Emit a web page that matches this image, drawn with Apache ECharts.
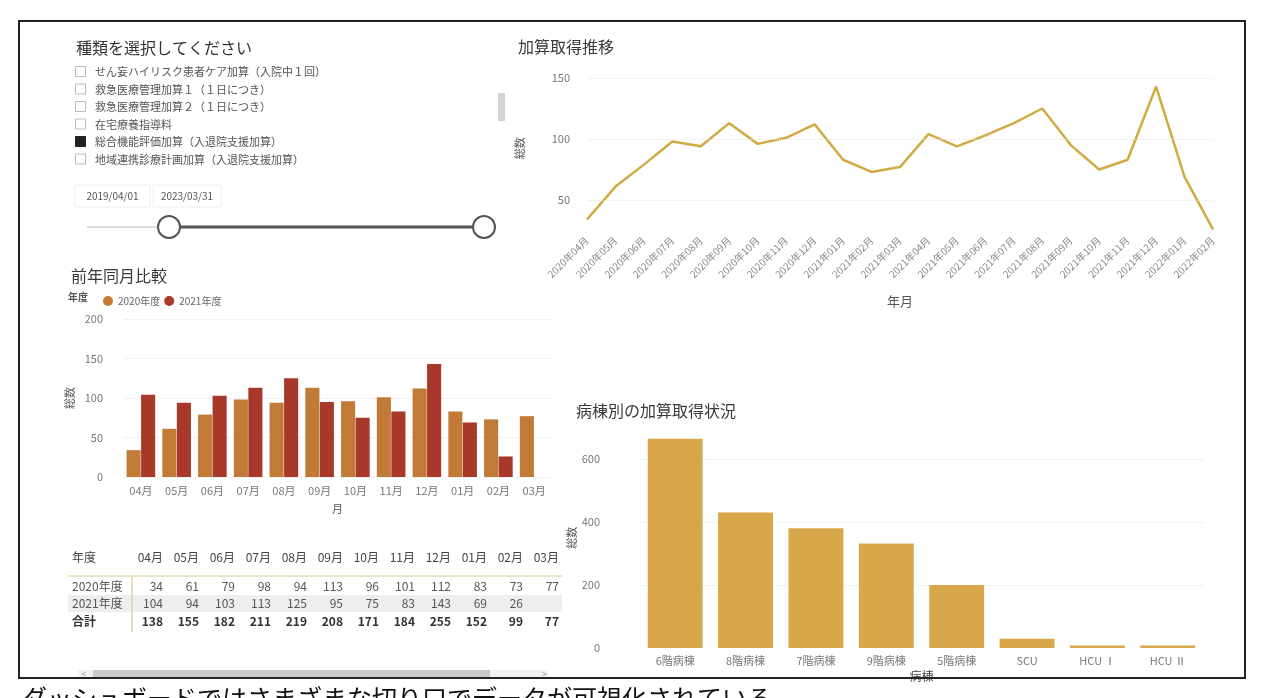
<!DOCTYPE html>
<html>
<head>
<meta charset="utf-8">
<script src="https://cdn.jsdelivr.net/npm/echarts@6/dist/echarts.min.js"></script>
<style>
html,body{margin:0;padding:0;background:#fff;}
#chart{width:1264px;height:698px;}
</style>
</head>
<body>
<div id="chart"></div>
<script>
// ---- data ----
const months = ['04月','05月','06月','07月','08月','09月','10月','11月','12月','01月','02月','03月'];
const fy2020 = [34,61,79,98,94,113,96,101,112,83,73,77];
const fy2021 = [104,94,103,113,125,95,75,83,143,69,26,null];
const yearMonths = ['2020年04月','2020年05月','2020年06月','2020年07月','2020年08月','2020年09月','2020年10月','2020年11月','2020年12月','2021年01月','2021年02月','2021年03月','2021年04月','2021年05月','2021年06月','2021年07月','2021年08月','2021年09月','2021年10月','2021年11月','2021年12月','2022年01月','2022年02月'];
const trend = [34,61,79,98,94,113,96,101,112,83,73,77,104,94,103,113,125,95,75,83,143,69,26];
const wards = ['6階病棟','8階病棟','7階病棟','9階病棟','5階病棟','SCU','HCU Ⅰ','HCU Ⅱ'];
const wardCounts = [664,430,380,332,200,29,8,8];
const slicerItems = ['せん妄ハイリスク患者ケア加算（入院中１回）','救急医療管理加算１（１日につき）','救急医療管理加算２（１日につき）','在宅療養指導料','総合機能評価加算（入退院支援加算）','地域連携診療計画加算（入退院支援加算）'];
const slicerChecked = [false,false,false,false,true,false];
const dateRange = ['2019/04/01','2023/03/31'];
const yearLabels = ['2020年度','2021年度'];

const FONT = '"Noto Sans CJK JP","Noto Sans",sans-serif';
const C2020 = '#C27B37', C2021 = '#A8392A', CLINE = '#D2AA42', CWARD = '#D7A74A';
const chart = echarts.init(document.getElementById('chart'));

// ---- graphics (slicer, table, frame) ----
const g = [];
g.push({type:'rect', shape:{x:19,y:21,width:1226,height:657}, style:{fill:'none',stroke:'#222',lineWidth:2}, z:100});
g.push({type:'text', x:76, y:48, style:{text:'種類を選択してください', font:'16px '+FONT, fill:'#333', verticalAlign:'middle'}});
slicerItems.forEach((t,i)=>{
  const y = 72 + i*17.5;
  g.push({type:'rect', shape:{x:75.5,y:y-5.5,width:10,height:10}, style:{fill:slicerChecked[i]?'#222':'#fff', stroke:slicerChecked[i]?'#222':'#bbb', lineWidth:1}});
  g.push({type:'text', x:95, y:y, style:{text:t, font:'11px '+FONT, fill:'#555', verticalAlign:'middle'}});
});
g.push({type:'rect', shape:{x:498,y:93,width:7,height:28}, style:{fill:'#d3d3d3'}});
[[75,75],[153,68]].forEach((b,i)=>{
  g.push({type:'rect', shape:{x:b[0],y:185,width:b[1],height:22}, style:{fill:'none',stroke:'#eee',lineWidth:1}});
  g.push({type:'text', x:b[0]+b[1]/2, y:196, style:{text:dateRange[i], font:'10px '+FONT, fill:'#555', align:'center', verticalAlign:'middle'}});
});
g.push({type:'line', shape:{x1:87,y1:227,x2:169,y2:227}, style:{stroke:'#ddd',lineWidth:2}});
g.push({type:'line', shape:{x1:169,y1:227,x2:484,y2:227}, style:{stroke:'#555',lineWidth:3}});
[169,484].forEach(x=>g.push({type:'circle', shape:{cx:x,cy:227,r:11}, style:{fill:'#fff',stroke:'#555',lineWidth:2}}));
g.push({type:'text', x:68, y:297, style:{text:'年度', font:'bold 10px '+FONT, fill:'#555', verticalAlign:'middle'}});

// table
const colRight = i => 163 + 36*i;
g.push({type:'rect', shape:{x:68,y:595,width:494,height:17}, style:{fill:'#eeeeee'}});
g.push({type:'line', shape:{x1:68,y1:576,x2:562,y2:576}, style:{stroke:'#ece3c2',lineWidth:2}});
g.push({type:'line', shape:{x1:132,y1:577,x2:132,y2:632}, style:{stroke:'#e2d39c',lineWidth:1.5}});
g.push({type:'text', x:72, y:557, style:{text:'年度', font:'12px '+FONT, fill:'#444', verticalAlign:'middle'}});
const rows = [
  {label:yearLabels[0], vals:fy2020, y:586, bold:false},
  {label:yearLabels[1], vals:fy2021, y:603, bold:false},
  {label:'合計', vals:fy2020.map((v,i)=>(v||0)+(fy2021[i]||0)), y:621, bold:true}
];
months.forEach((m,i)=>{
  g.push({type:'text', x:colRight(i), y:557, style:{text:m, font:'12px '+FONT, fill:'#444', align:'right', verticalAlign:'middle'}});
});
rows.forEach(r=>{
  g.push({type:'text', x:72, y:r.y, style:{text:r.label, font:(r.bold?'bold ':'')+'12px '+FONT, fill:r.bold?'#333':'#555', verticalAlign:'middle'}});
  r.vals.forEach((v,i)=>{
    if (v==null) return;
    g.push({type:'text', x:colRight(i), y:r.y, style:{text:String(v), font:(r.bold?'bold ':'')+'12px '+FONT, fill:r.bold?'#333':'#555', align:'right', verticalAlign:'middle'}});
  });
});
g.push({type:'rect', shape:{x:78,y:670,width:470,height:7}, style:{fill:'#f2f2f2'}});
g.push({type:'rect', shape:{x:93,y:670,width:397,height:7}, style:{fill:'#c9c9c9'}});
g.push({type:'text', x:81, y:674, style:{text:'<', font:'9px '+FONT, fill:'#999', verticalAlign:'middle'}});
g.push({type:'text', x:542, y:674, style:{text:'>', font:'9px '+FONT, fill:'#999', verticalAlign:'middle'}});
g.push({type:'text', x:22, y:686, style:{text:'ダッシュボードではさまざまな切り口でデータが可視化されている', font:'25px '+FONT, fill:'#111'}});

const gridLine = {symbol:'none', silent:true, label:{show:false}, lineStyle:{color:'#e6e6e6', type:'dotted', width:1}};
const axisLbl = {color:'#777', fontSize:11, fontFamily:FONT};
const nameStyle = {color:'#555', fontSize:11, fontFamily:FONT};

const option = {
  backgroundColor:'#fff',
  animation:false,
  textStyle:{fontFamily:FONT},
  title:[
    {text:'加算取得推移', left:513, top:34, textStyle:{fontSize:16, fontWeight:'normal', color:'#3a3a3a', fontFamily:FONT}},
    {text:'前年同月比較', left:66, top:263, textStyle:{fontSize:16, fontWeight:'normal', color:'#3a3a3a', fontFamily:FONT}},
    {text:'病棟別の加算取得状況', left:571, top:398, textStyle:{fontSize:16, fontWeight:'normal', color:'#3a3a3a', fontFamily:FONT}}
  ],
  legend:{data:yearLabels, left:98, top:291, icon:'circle', itemWidth:10, itemHeight:10, itemGap:4, textStyle:{color:'#666', fontSize:10, fontFamily:FONT}},
  grid:[
    {left:587, right:51, top:65.8, bottom:467.5},
    {left:123, right:712, top:319, bottom:221},
    {left:640, right:61, top:427.5, bottom:50}
  ],
  xAxis:[
    {type:'category', gridIndex:0, data:yearMonths, boundaryGap:false,
     axisLine:{show:false}, axisTick:{show:false},
     axisLabel:Object.assign({}, axisLbl, {rotate:45, fontSize:10, margin:8, interval:0, color:'#888'}),
     name:'年月', nameLocation:'middle', nameGap:64, nameTextStyle:{color:'#555', fontSize:13, fontFamily:FONT}},
    {type:'category', gridIndex:1, data:months,
     axisLine:{show:false}, axisTick:{show:false},
     axisLabel:Object.assign({}, axisLbl, {margin:8, interval:0}),
     name:'月', nameLocation:'middle', nameGap:26, nameTextStyle:nameStyle},
    {type:'category', gridIndex:2, data:wards,
     axisLine:{show:false}, axisTick:{show:false},
     axisLabel:Object.assign({}, axisLbl, {margin:7, interval:0}),
     name:'病棟', nameLocation:'middle', nameGap:22, nameTextStyle:{color:'#444', fontSize:12, fontFamily:FONT}}
  ],
  yAxis:[
    {type:'value', gridIndex:0, min:25, max:160, interval:25,
     axisLine:{show:false}, axisTick:{show:false}, splitLine:{show:false},
     axisLabel:Object.assign({}, axisLbl, {margin:17, formatter:v=>(v%50===0?String(v):''), showMaxLabel:false}),
     name:'総数', nameLocation:'middle', nameRotate:90, nameGap:62, nameTextStyle:nameStyle},
    {type:'value', gridIndex:1, min:0, max:200, interval:50,
     axisLine:{show:false}, axisTick:{show:false},
     splitLine:{show:true, lineStyle:{color:'#e6e6e6', type:'dotted'}},
     axisLabel:Object.assign({}, axisLbl, {margin:20}),
     name:'総数', nameLocation:'middle', nameRotate:90, nameGap:48, nameTextStyle:nameStyle},
    {type:'value', gridIndex:2, min:0, max:700, interval:100,
     axisLine:{show:false}, axisTick:{show:false}, splitLine:{show:false},
     axisLabel:Object.assign({}, axisLbl, {margin:40, formatter:v=>(v%200===0?String(v):'')}),
     name:'総数', nameLocation:'middle', nameRotate:90, nameGap:60, nameTextStyle:nameStyle}
  ],
  series:[
    {type:'line', xAxisIndex:0, yAxisIndex:0, data:trend, showSymbol:false, lineStyle:{color:CLINE, width:2.5}, itemStyle:{color:CLINE},
     markLine:Object.assign({}, gridLine, {data:[{yAxis:50},{yAxis:100},{yAxis:150}]}), z:3},
    {type:'bar', name:yearLabels[0], xAxisIndex:1, yAxisIndex:1, data:fy2020, itemStyle:{color:C2020}, barGap:'3%', barCategoryGap:'20%'},
    {type:'bar', name:yearLabels[1], xAxisIndex:1, yAxisIndex:1, data:fy2021, itemStyle:{color:C2021}, barGap:'3%', barCategoryGap:'20%'},
    {type:'line', xAxisIndex:2, yAxisIndex:2, data:[], z:1, silent:true,
     markLine:Object.assign({}, gridLine, {data:[{yAxis:200},{yAxis:400},{yAxis:600}]})},
    {type:'bar', xAxisIndex:2, yAxisIndex:2, data:wardCounts, itemStyle:{color:CWARD}, barCategoryGap:'22%', z:5}
  ],
  graphic:g
};
chart.setOption(option);
</script>
</body>
</html>
